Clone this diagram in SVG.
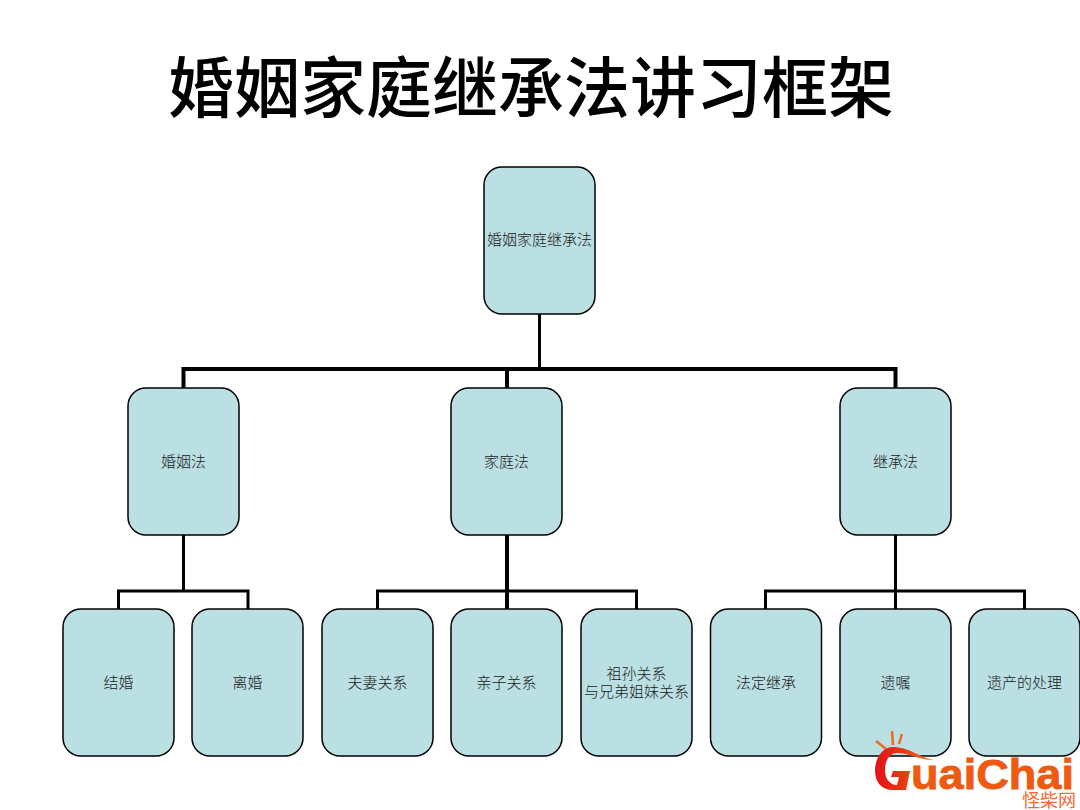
<svg xmlns="http://www.w3.org/2000/svg" width="1080" height="810" viewBox="0 0 1080 810">
<style>
.n{fill:#bbe0e3;stroke:#000;stroke-width:1.5}
.t{font-family:"Liberation Serif","Noto Sans CJK SC",serif;font-size:15px;font-weight:300;fill:#1a1a1a;text-anchor:middle}
.c{fill:none;stroke:#000;stroke-width:3}
.c4{fill:none;stroke:#000;stroke-width:4}
.o{fill:#ee5a10}
</style>
<defs><linearGradient id="g" x1="0" y1="0" x2="1" y2="0"><stop offset="0" stop-color="#e5101a"/><stop offset="0.5" stop-color="#ea3a12"/><stop offset="1" stop-color="#f0801a"/></linearGradient></defs>
<rect width="1080" height="810" fill="#fff"/>
<text id="title" x="531" y="112" font-family="'Liberation Serif','Noto Sans CJK SC',serif" font-size="66" font-weight="500" text-anchor="middle" fill="#000">婚姻家庭继承法讲习框架</text>
<g id="connectors">
<path class="c" d="M539.5 314V369"/>
<path class="c4" d="M183.5 388V369H895.5V388M507 369V388"/>
<path class="c" d="M183.5 535V591M118.5 609V591H248V609"/>
<path class="c4" d="M507 535V609"/>
<path class="c" d="M377.5 609V591H636.5V609"/>
<path class="c" d="M895.5 535V609M765.5 609V591H1024.5V609"/>
</g>
<g id="root"><rect class="n" x="484" y="167" width="111" height="147" rx="18"/><text class="t" x="539.5" y="245">婚姻家庭继承法</text></g>
<g id="marriage"><rect class="n" x="128" y="388" width="111" height="147" rx="18"/><text class="t" x="183.5" y="467">婚姻法</text></g>
<g id="family"><rect class="n" x="451" y="388" width="111" height="147" rx="18"/><text class="t" x="506.5" y="467">家庭法</text></g>
<g id="inherit"><rect class="n" x="840" y="388" width="111" height="147" rx="18"/><text class="t" x="895.5" y="467">继承法</text></g>
<g id="n1"><rect class="n" x="63" y="609" width="111" height="147" rx="18"/><text class="t" x="118.5" y="688">结婚</text></g>
<g id="n2"><rect class="n" x="192" y="609" width="111" height="147" rx="18"/><text class="t" x="247.5" y="688">离婚</text></g>
<g id="n3"><rect class="n" x="322" y="609" width="111" height="147" rx="18"/><text class="t" x="377.5" y="688">夫妻关系</text></g>
<g id="n4"><rect class="n" x="451" y="609" width="111" height="147" rx="18"/><text class="t" x="506.5" y="688">亲子关系</text></g>
<g id="n5"><rect class="n" x="581" y="609" width="111" height="147" rx="18"/><text class="t" x="636.5" y="679">祖孙关系</text><text class="t" x="636.5" y="697">与兄弟姐妹关系</text></g>
<g id="n6"><rect class="n" x="710.5" y="609" width="111" height="147" rx="18"/><text class="t" x="766" y="688">法定继承</text></g>
<g id="n7"><rect class="n" x="840" y="609" width="111" height="147" rx="18"/><text class="t" x="895.5" y="688">遗嘱</text></g>
<g id="n8"><rect class="n" x="969" y="609" width="111" height="147" rx="18"/><text class="t" x="1024.5" y="688">遗产的处理</text></g>
<g id="logo">
<path d="M876 741L886 749M892 731L893 745M902 734L899 744" stroke="#ee6a20" stroke-width="2.5" fill="none"/>
<path d="M934 760C918 757 910 747 892 747C881 748 875 760 875 770C875 782 881 790 893 790L906 790L910 771L893 771L891 777L899 777L897 785C889 785 885 778 885 770C885 760 890 753 897 753C910 753 918 760 934 760Z" fill="url(#g)"/>
<text class="o" x="911" y="789" font-family="'Liberation Sans',sans-serif" font-size="42" font-weight="700" stroke="#ee5a10" stroke-width="0.8" textLength="163" lengthAdjust="spacingAndGlyphs">uaiChai</text>
<text x="1049" y="807" font-family="'Noto Sans CJK SC',sans-serif" font-size="18" fill="#ee6a30" text-anchor="middle">怪柴网</text>
</g>
</svg>
